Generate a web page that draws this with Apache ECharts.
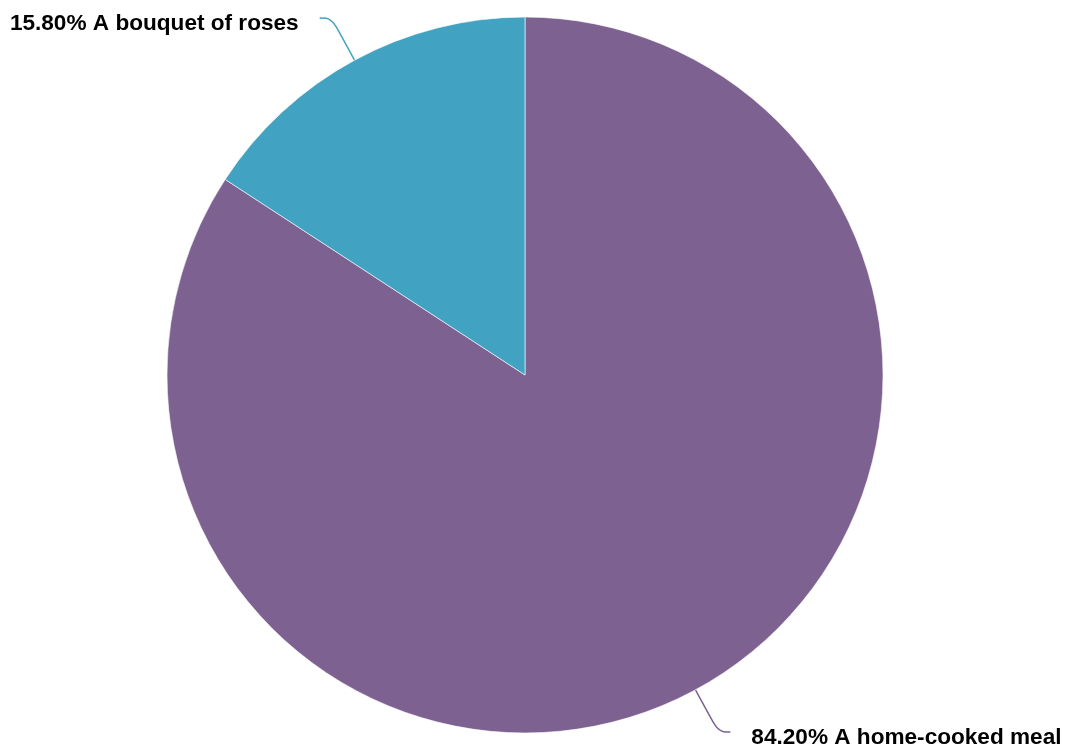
<!DOCTYPE html>
<html>
<head>
<meta charset="utf-8">
<script src="https://cdn.jsdelivr.net/npm/echarts@6/dist/echarts.min.js"></script>
<style>
  html, body { margin: 0; padding: 0; background: #fff; }
  #chart { width: 1068px; height: 756px; }
</style>
</head>
<body>
<div id="chart"></div>
<script>
const categories = ['A home-cooked meal', 'A bouquet of roses'];
const shares = [84.2, 15.8];
const colors = ['#7D6190', '#41A2C2'];

const chart = echarts.init(document.getElementById('chart'));
chart.setOption({
  animation: false,
  color: colors,
  series: [
    {
      type: 'pie',
      center: [525, 375],
      radius: 358,
      startAngle: 90,
      clockwise: true,
      itemStyle: {
        borderColor: '#fff',
        borderWidth: 0.6,
      },
      label: {
        show: true,
        formatter: (p) => '{t|' + p.value.toFixed(2) + '% ' + p.name + '}',
        overflow: 'none',
        rich: {
          t: {
            color: '#000',
            fontSize: 22.6,
            fontWeight: 'bold',
            fontFamily: 'Liberation Sans, Arial, sans-serif',
            padding: [12, 16, 0, 16],
          },
        },
      },
      labelLine: {
        show: true,
        length: 48,
        length2: 12,
        smooth: 0.4,
        lineStyle: { width: 1.5 },
      },
      data: categories.map((name, i) => ({ name: name, value: shares[i] })),
    },
  ],
});
</script>
</body>
</html>
